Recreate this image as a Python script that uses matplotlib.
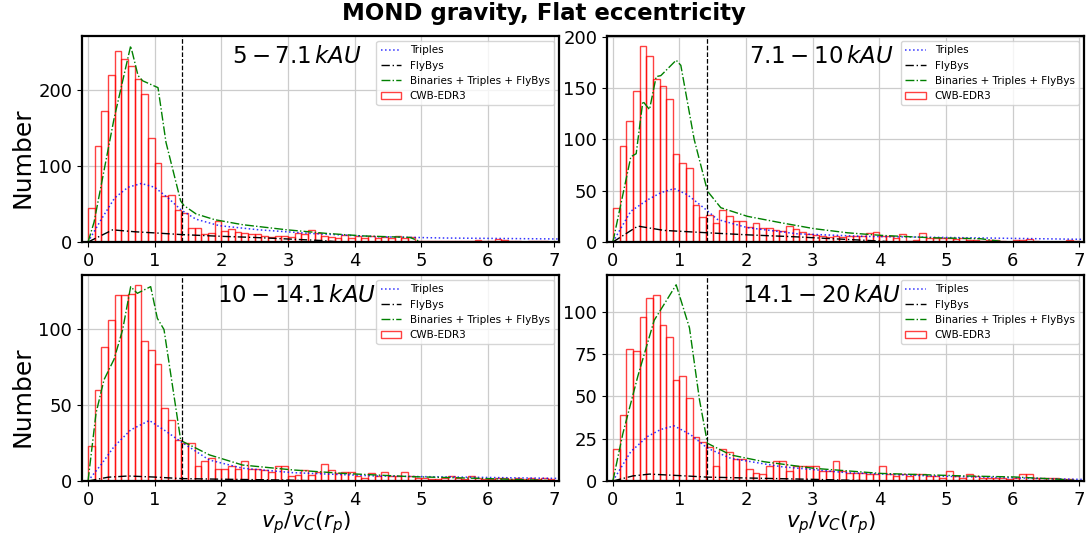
import numpy as np
import matplotlib
matplotlib.use("Agg")
import matplotlib.pyplot as plt

# histogram bins: 0.1 wide from 0 to 7
bin_edges = np.round(np.arange(0, 7.01, 0.1), 2)

panel_labels = [r"$5-7.1\,kAU$", r"$7.1-10\,kAU$", r"$10-14.1\,kAU$", r"$14.1-20\,kAU$"]

# CWB-EDR3 counts per bin
counts_a = [45, 126, 172, 219, 251, 241, 231, 214, 194, 137,
            104, 61, 62, 42, 38, 19, 19, 11, 12, 28,
            15, 17, 13, 12, 10, 10, 8, 7, 8, 8,
            7, 12, 10, 16, 12, 8, 6, 5, 9, 5,
            8, 5, 8, 5, 6, 5, 8, 5, 6, 2,
            2, 2, 2, 2, 2, 2, 1, 1, 3, 1,
            1, 4, 3, 1, 1, 0, 1, 2, 1, 0]
counts_b = [33, 93, 118, 147, 191, 181, 159, 152, 139, 86,
            77, 72, 36, 24, 26, 19, 31, 25, 20, 20,
            15, 19, 14, 14, 12, 11, 16, 13, 10, 8,
            7, 6, 5, 6, 5, 6, 6, 6, 9, 10,
            6, 6, 4, 8, 1, 2, 9, 4, 4, 4,
            4, 3, 4, 2, 2, 1, 2, 2, 1, 0,
            2, 2, 3, 1, 0, 0, 0, 0, 2, 1]
counts_c = [23, 60, 88, 106, 122, 122, 123, 129, 92, 86,
            77, 48, 40, 27, 25, 25, 10, 13, 15, 8,
            8, 10, 8, 13, 8, 8, 7, 6, 10, 10,
            3, 4, 7, 4, 6, 11, 7, 5, 6, 6,
            3, 2, 5, 3, 6, 3, 3, 6, 3, 2,
            2, 1, 1, 2, 3, 2, 1, 3, 2, 1,
            1, 2, 2, 1, 2, 1, 2, 1, 2, 1]
counts_d = [19, 39, 78, 77, 97, 108, 110, 92, 85, 60,
            62, 49, 26, 23, 20, 9, 19, 17, 13, 13,
            7, 5, 4, 9, 12, 12, 6, 9, 9, 9,
            9, 6, 6, 12, 6, 5, 5, 5, 4, 4,
            9, 4, 3, 4, 3, 4, 4, 3, 3, 2,
            6, 3, 2, 4, 3, 2, 2, 2, 2, 1,
            2, 4, 4, 2, 2, 2, 2, 1, 1, 0]
all_counts = [counts_a, counts_b, counts_c, counts_d]

# model curves: (x, y) knots
triples_x = [[0, 0.2, 0.4, 0.6, 0.8, 1.0, 1.2, 1.4, 1.62, 1.97, 2.57, 3.32, 4.33, 5.33, 7.1],
             [0, 0.27, 0.52, 0.72, 0.92, 1.12, 1.37, 1.57, 2.02, 2.77, 3.77, 5.27, 7.1],
             [0, 0.2, 0.39, 0.64, 0.92, 1.14, 1.39, 1.82, 2.32, 3.07, 4.33, 7.1],
             [0, 0.27, 0.52, 0.72, 0.92, 1.17, 1.42, 1.77, 2.52, 3.52, 4.77, 7.1]]
triples_y = [[0, 30, 58, 72, 77, 72, 58, 42, 30, 21.5, 16, 11.4, 7, 5.3, 4],
             [0, 30, 41, 48, 52, 46, 33, 22, 14, 8, 5.5, 4.2, 2.6],
             [0, 11, 22.6, 33.6, 39.8, 33.6, 26, 13.8, 8.4, 5.5, 3.3, 1.7],
             [0, 17.4, 26.3, 30.5, 32.6, 27.3, 19.4, 13.4, 8.5, 4.9, 3, 0.9]]

flybys_x = [[0, 0.37, 0.7, 1.0, 1.4, 2.0, 2.5, 3.0, 3.5, 3.8],
            [0, 0.375, 0.77, 1.42, 2.02, 2.77, 3.27, 4.0, 4.2],
            [0, 0.3, 0.6, 1.0, 1.4, 2.0, 3.0, 3.5],
            [0, 0.3, 0.55, 1.0, 1.42, 2.0, 3.0, 4.0]]
flybys_y = [[0, 16, 13.5, 12, 9.8, 7.5, 6, 4, 2, 0],
            [0, 15.5, 11.3, 9, 7, 5, 3.3, 1, 0],
            [0, 2.5, 3.3, 2.6, 1.6, 1.2, 0.6, 0],
            [0, 3, 4.1, 3.2, 2.3, 1.8, 1, 0]]

total_x = [[0, 0.09, 0.39, 0.64, 0.75, 0.82, 1.05, 1.17, 1.39, 1.44, 1.62, 1.9, 2.32, 2.97, 3.57, 4.13, 4.83, 5.0],
           [0, 0.27, 0.35, 0.45, 0.55, 0.65, 0.72, 0.95, 1.02, 1.22, 1.42, 1.62, 2.02, 2.52, 3.02, 3.52, 4.02, 4.77, 5.52, 5.9],
           [0, 0.12, 0.24, 0.39, 0.52, 0.64, 0.74, 0.94, 1.04, 1.14, 1.39, 1.42, 1.82, 2.32, 3.07, 3.83, 4.83, 5.83, 6.83, 7.0],
           [0, 0.15, 0.375, 0.62, 0.95, 1.15, 1.3, 1.42, 1.77, 2.27, 3.02, 4.02, 5.27, 6.02, 6.77, 7.0]]
total_y = [[0, 26, 162, 258, 219, 212, 203, 131, 54, 48, 37, 29.4, 22.8, 16.2, 11.4, 8, 6.1, 0],
           [0, 83, 86, 137, 129, 161, 162, 177, 172, 100, 49.5, 33.4, 25, 18.8, 13, 9, 6.5, 4.2, 3.2, 0],
           [0, 44.6, 66.6, 80, 99.6, 127.8, 123.4, 127.8, 107, 99.6, 27, 26, 17.2, 10.5, 7.3, 5, 2.9, 1.8, 0.5, 0],
           [0, 28, 62, 95, 116, 90.5, 48, 22.3, 15.4, 11.4, 7.5, 4.5, 3, 2.4, 0.9, 0]]

fig, axes = plt.subplots(2, 2, figsize=(10.88, 5.35), dpi=100)
plt.subplots_adjust(left=0.0754, right=0.9963, bottom=0.1009, top=0.9327, wspace=0.1, hspace=0.16)
fig.suptitle("MOND gravity, Flat eccentricity", fontsize=16.5, fontweight="bold", y=0.997)

for i, ax in enumerate(axes.flat):
    counts = np.array(all_counts[i])
    ax.grid(True, color="#cccccc", linewidth=0.9)
    ax.set_axisbelow(True)
    p1, = ax.plot(triples_x[i], triples_y[i], color="blue", linestyle=":", linewidth=1.1, alpha=0.8)
    p2, = ax.plot(flybys_x[i], flybys_y[i], color="black", linestyle="-.", linewidth=1.0, dashes=(6, 2, 1, 2))
    p3, = ax.plot(total_x[i], total_y[i], color="green", linestyle="-.", linewidth=1.0)
    ax.hist(bin_edges[:-1] + 0.05, bins=bin_edges, weights=counts, histtype="bar",
            fill=False, edgecolor="red", linewidth=1.0, alpha=0.75, label="CWB-EDR3")
    ax.axvline(np.sqrt(2), color="black", linestyle="--", linewidth=0.9)
    top = max(counts.max(), max(total_y[i])) * 1.05
    ax.set_ylim(0, top)
    ax.set_xlim(-0.09, 7.07)
    ax.set_xticks(range(8))
    ax.tick_params(labelsize=13)
    for s in ax.spines.values():
        s.set_linewidth(1.6)
    ax.text(0.45, 0.90, panel_labels[i], transform=ax.transAxes, ha="center", va="center", fontsize=16.5)
    h, l = ax.get_legend_handles_labels()
    ax.legend([p1, p2, p3] + h, ["Triples", "FlyBys", "Binaries + Triples + FlyBys"] + l,
              loc="upper right", fontsize=7.5)
    if i % 2 == 0:
        ax.set_ylabel("Number", fontsize=18)
        ax.yaxis.set_label_coords(-0.1, 0.41)
    if i >= 2:
        ax.set_xlabel(r"$v_p/v_C(r_p)$", fontsize=15.5)
        ax.xaxis.set_label_coords(0.47, -0.135)

plt.savefig("out.png", dpi=100)
